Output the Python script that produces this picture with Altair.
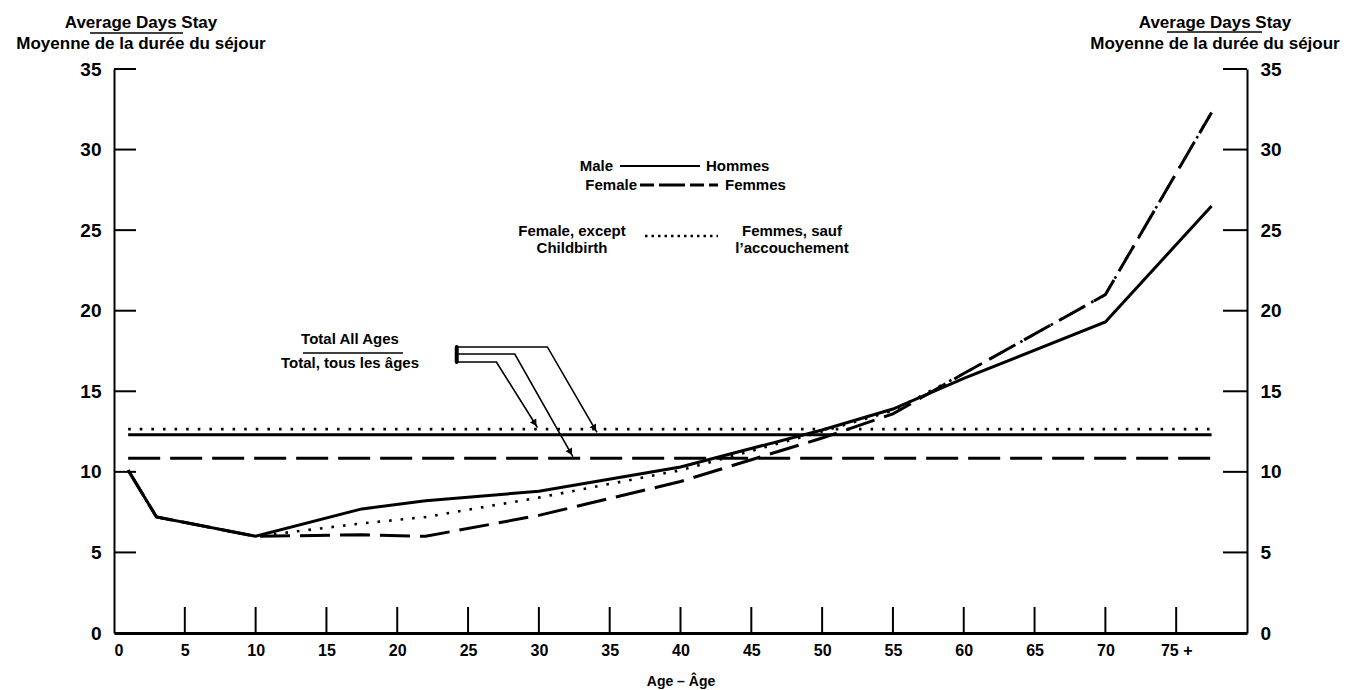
import math
import altair as alt
import pandas as pd

# ---------------- data ----------------
ages = [1, 3, 10, 17.5, 22, 30, 40, 50, 55, 60, 70, 77.5]
male = [10.1, 7.2, 6.0, 7.7, 8.2, 8.8, 10.3, 12.6, 13.9, 15.8, 19.3, 26.5]
female = [10.1, 7.2, 6.0, 6.1, 6.0, 7.3, 9.4, 12.1, 13.6, 16.1, 21.0, 32.3]
female_ex = [10.1, 7.2, 6.0, 6.8, 7.2, 8.4, 10.1, 12.5, 13.8, 16.1, 21.0, 32.3]

total_span = [1, 77.5]
total_male = 12.3
total_female = 10.85
total_female_ex = 12.65

x_tick_values = [0, 5, 10, 15, 20, 25, 30, 35, 40, 45, 50, 55, 60, 65, 70, 75]
x_inner_ticks = [5, 10, 15, 20, 25, 30, 35, 40, 45, 50, 55, 60, 65, 70, 75]
y_tick_values = [0, 5, 10, 15, 20, 25, 30, 35]
y_inner_ticks = [5, 10, 15, 20, 25, 30, 35]

# annotation leader paths (age, days)
ann_top_x = [24.2, 30.6, 34.1]
ann_top_y = [17.75, 17.75, 12.45]
ann_mid_x = [24.2, 28.3, 32.4]
ann_mid_y = [17.31, 17.31, 10.95]
ann_bot_x = [24.2, 27.0, 29.9]
ann_bot_y = [16.82, 16.82, 12.75]

title_lines = ["Average Days Stay", "Moyenne de la durée du séjour"]
x_title = "Age – Âge"
total_label = ["Total All Ages", "Total, tous les âges"]

# ---------------- layout ----------------
W, H = 1133, 564
XMAX, YMAX = 80, 35
PXX, PXY = W / XMAX, H / YMAX
FONT = "Liberation Sans"

xs = alt.Scale(domain=[0, XMAX], nice=False, zero=False)
ys = alt.Scale(domain=[0, YMAX], nice=False, zero=False)

x_axis = alt.Axis(
    values=x_tick_values, ticks=False, grid=False, domainWidth=3, domainColor="black",
    labelExpr="datum.value == 75 ? '75 +' : datum.label",
    labelFont=FONT, labelFontSize=16, labelFontWeight="bold", labelColor="black",
    labelPadding=9, title=x_title, titleFont=FONT, titleFontSize=14,
    titleFontWeight="bold", titleColor="black", titlePadding=16,
)
y_axis_left = alt.Axis(
    orient="left", values=y_tick_values, ticks=False, grid=False, domainWidth=2,
    domainColor="black", labelFont=FONT, labelFontSize=19, labelFontWeight="bold",
    labelColor="black", labelPadding=13, title=None,
)
y_axis_right = alt.Axis(
    orient="right", values=y_tick_values, ticks=False, grid=False, domainWidth=2,
    domainColor="black", labelFont=FONT, labelFontSize=19, labelFontWeight="bold",
    labelColor="black", labelPadding=13, title=None,
)


def X():
    return alt.X("age:Q", scale=xs, axis=x_axis)


def Y(axis=y_axis_left):
    return alt.Y("days:Q", scale=ys, axis=axis)


# ---------------- tick rules (inward) ----------------
xt = pd.DataFrame({"age": x_inner_ticks})
x_ticks = alt.Chart(xt).mark_rule(color="black", strokeWidth=2).encode(
    x=X(), y=alt.value(H), y2=alt.value(H - 26)
)
yt = pd.DataFrame({"days": y_inner_ticks})
y_ticks_left = alt.Chart(yt).mark_rule(color="black", strokeWidth=2).encode(
    y=Y(), x=alt.value(0), x2=alt.value(22)
)
y_ticks_right = alt.Chart(yt).mark_rule(color="black", strokeWidth=2).encode(
    y=Y(y_axis_right), x=alt.value(W - 24), x2=alt.value(W)
)


# ---------------- series ----------------
def series(vals):
    return pd.DataFrame({"age": ages, "days": vals})


male_line = alt.Chart(series(male)).mark_line(color="black", strokeWidth=3).encode(x=X(), y=Y())
female_line = alt.Chart(series(female)).mark_line(
    color="black", strokeWidth=3, strokeDash=[30, 10]
).encode(x=X(), y=Y())
female_ex_line = alt.Chart(series(female_ex)).mark_line(
    color="black", strokeWidth=2.6, strokeDash=[2.6, 9]
).encode(x=X(), y=Y())


def total(v):
    return pd.DataFrame({"age": total_span, "days": [v, v]})


tot_male = alt.Chart(total(total_male)).mark_line(color="black", strokeWidth=3).encode(x=X(), y=Y())
tot_female = alt.Chart(total(total_female)).mark_line(
    color="black", strokeWidth=3, strokeDash=[32, 10]
).encode(x=X(), y=Y())
tot_female_ex = alt.Chart(total(total_female_ex)).mark_line(
    color="black", strokeWidth=2.6, strokeDash=[2.6, 9]
).encode(x=X(), y=Y())

# ---------------- annotation (bracket + arrows) ----------------
rows = []
heads = []
for gi, (px, py) in enumerate([(ann_top_x, ann_top_y), (ann_mid_x, ann_mid_y), (ann_bot_x, ann_bot_y)]):
    for i, (a, d) in enumerate(zip(px, py)):
        rows.append({"g": gi, "o": i, "age": a, "days": d})
    dx = (px[2] - px[1]) * PXX
    dy = -(py[2] - py[1]) * PXY
    ln = math.hypot(dx, dy)
    ang = math.degrees(math.atan2(dx, -dy)) % 360
    heads.append({
        "age": px[2] - dx / ln * 5 / PXX,
        "days": py[2] + dy / ln * 5 / PXY,
        "ang": ang,
    })
ann = pd.DataFrame(rows)
leaders = alt.Chart(ann).mark_line(color="black", strokeWidth=1.6).encode(
    x=X(), y=Y(), detail="g:N", order="o:Q"
)
bracket = alt.Chart(pd.DataFrame({"age": [ann_top_x[0], ann_bot_x[0]],
                                  "days": [ann_top_y[0], ann_bot_y[0]]})).mark_line(
    color="black", strokeWidth=4, strokeCap="round"
).encode(x=X(), y=Y())
arrowheads = alt.Chart(pd.DataFrame(heads)).mark_point(
    shape="triangle-up", filled=True, color="black", opacity=1, size=55
).encode(x=X(), y=Y(), angle=alt.Angle("ang:Q", scale=None))

total_text = alt.Chart(pd.DataFrame({"t": [total_label]})).mark_text(
    font=FONT, fontSize=15, fontWeight="bold", color="black", align="center",
    baseline="top", lineHeight=24
).encode(text="t", x=alt.value(236), y=alt.value(263))

# ---------------- axis titles (horizontal, above each axis) ----------------
tl = alt.Chart(pd.DataFrame({"t": [title_lines]})).mark_text(
    font=FONT, fontSize=17, fontWeight="bold", color="black", align="center",
    baseline="alphabetic", lineHeight=21
).encode(text="t", x=alt.value(27), y=alt.value(-41))
tr = alt.Chart(pd.DataFrame({"t": [title_lines]})).mark_text(
    font=FONT, fontSize=17, fontWeight="bold", color="black", align="center",
    baseline="alphabetic", lineHeight=21
).encode(text="t", x=alt.value(1101), y=alt.value(-41))


# small overlines seen in the scan
def seg(x1, x2, y):
    return alt.Chart(pd.DataFrame({"k": [0]})).mark_rule(color="black", strokeWidth=1.5).encode(
        x=alt.value(x1), x2=alt.value(x2), y=alt.value(y)
    )


marks_extra = [seg(-24, 69, -36), seg(1053, 1148, -37), seg(189, 289, 284)]


# ---------------- legend ----------------
def ltext(txt, x, y, align):
    return alt.Chart(pd.DataFrame({"t": [txt]})).mark_text(
        font=FONT, fontSize=15, fontWeight="bold", color="black", align=align,
        baseline="middle", lineHeight=17
    ).encode(text="t", x=alt.value(x), y=alt.value(y))


def lline(x1, x2, y, **kw):
    return alt.Chart(pd.DataFrame({"k": [0]})).mark_rule(color="black", **kw).encode(
        x=alt.value(x1), x2=alt.value(x2), y=alt.value(y)
    )


legend = [
    ltext("Male", 499, 97, "right"), lline(506, 586, 97, strokeWidth=2), ltext("Hommes", 592, 97, "left"),
    ltext("Female", 523, 116, "right"), lline(526, 604, 116, strokeWidth=3, strokeDash=[14, 5, 26, 5]),
    ltext("Femmes", 611, 116, "left"),
    ltext(["Female, except", "Childbirth"], 458, 162, "center"),
    lline(531, 604, 167, strokeWidth=2.5, strokeDash=[2.5, 4]),
    ltext(["Femmes, sauf", "l’accouchement"], 678, 162, "center"),
]

left_layer = alt.layer(
    x_ticks, y_ticks_left,
    tot_female, tot_male, tot_female_ex,
    female_line, female_ex_line, male_line,
    leaders, bracket, arrowheads, total_text, tl, tr,
    *marks_extra, *legend,
)
chart = alt.layer(left_layer, y_ticks_right).resolve_scale(y="independent").properties(
    width=W, height=H,
    background="white",
    autosize=alt.AutoSizeParams(type="none"),
    padding={"left": 106, "top": 61, "right": 113, "bottom": 56},
).configure_view(strokeWidth=0, stroke="transparent")

chart.save("out.html", embed_options={"renderer": "svg", "actions": False})
